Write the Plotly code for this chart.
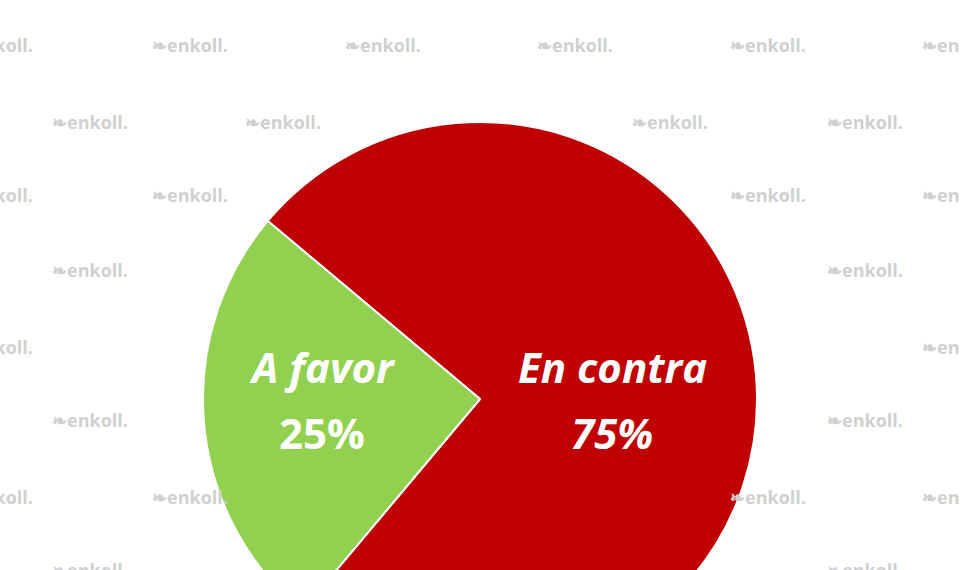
import plotly.graph_objects as go

labels = ["En contra", "A favor"]
values = [75, 25]
colors = ["#C00000", "#92D050"]
label_names = ["<i>En contra</i>", "<i>A favor</i>"]
label_pcts = ["<i>75%</i>", "25%"]

W, H = 960, 700
CX, CY, R = 480, 399, 277
fig = go.Figure(go.Pie(
    labels=labels, values=values, sort=False, direction="clockwise", rotation=310,
    marker=dict(colors=colors, line=dict(color="white", width=2)),
    textinfo="none",
    domain=dict(x=[(CX-R)/W, (CX+R)/W], y=[(H-CY-R)/H, (H-CY+R)/H]),
    showlegend=False, hoverinfo="skip",
))

ann = []
for n, p, x in zip(label_names, label_pcts, [612, 322]):
    for t, y in [(n, 367), (p, 432)]:
        ann.append(dict(x=x/W, y=1-y/H, xref="paper", yref="paper", text=t, showarrow=False,
                        xanchor="center", yanchor="middle",
                        font=dict(family="Open Sans", size=42, color="white", weight="bold")))

rows = [45, 122, 195, 270, 347, 420, 497, 570]
for i, y in enumerate(rows):
    xs = [-5, 190, 383, 575, 768, 960] if i % 2 == 0 else [90, 283, 476, 670, 865]
    for x in xs:
        if ((x - CX)**2 + (y - CY)**2) ** 0.5 < R + 20:
            continue
        ann.append(dict(x=x/W, y=1-y/H, xref="paper", yref="paper", text="<b>\u2767enkoll.</b>",
                        showarrow=False, xanchor="center", yanchor="middle",
                        font=dict(family="Open Sans", size=18, color="#D0D0D0")))
fig.update_layout(width=W, height=H, margin=dict(l=0, r=0, t=0, b=0),
                  paper_bgcolor="white", plot_bgcolor="white", annotations=ann)
fig.write_html("out.html", config={"displayModeBar": False},
               post_script="document.body.style.margin='0';document.body.style.overflow='hidden';")
